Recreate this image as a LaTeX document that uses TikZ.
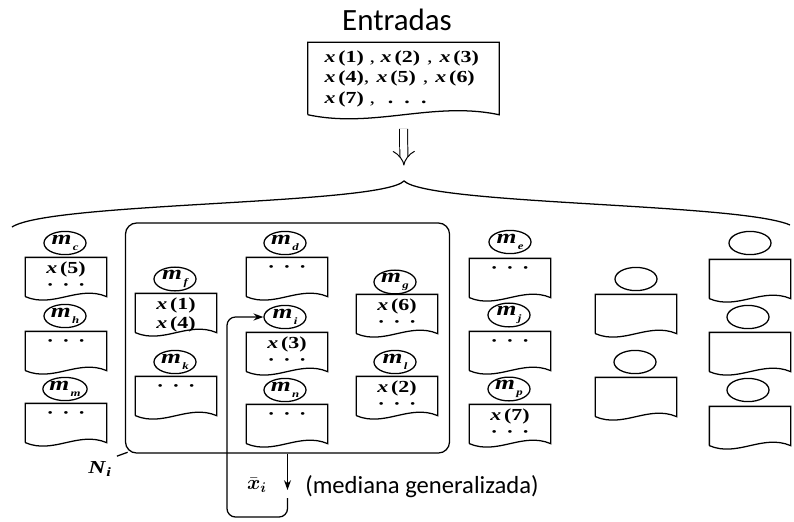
\documentclass[tikz,border=0pt]{standalone}
\usepackage{amsmath}
\usepackage{fontspec}
\setmainfont{Liberation Serif}
\newfontfamily\calfont{Carlito}
\newfontfamily\scanfont[FakeStretch=1.3]{Liberation Serif}
\usetikzlibrary{shapes.geometric,arrows.meta}

\begin{document}
\begin{tikzpicture}[x=0.025cm, y=-0.025cm, line width=0.9pt,
    mnode/.style={draw, ellipse, minimum width=1.05cm, minimum height=0.58cm, inner sep=0pt, font=\scanfont\fontsize{14}{16}\selectfont},
    docnode/.style={minimum width=2cm, minimum height=0.95cm, inner sep=0pt},
    doctext/.style={anchor=north, inner sep=0pt, align=center, font=\scanfont\fontsize{12}{11.5}\selectfont},
    >={Stealth[length=7pt,width=5pt]}]

    \def\mlab#1{\textbf{\textit{m}}\hspace{1pt}\raisebox{-0.6ex}{\scriptsize\bfseries\itshape #1}}
    \def\xv#1{\textbf{\textit{x}\,(#1)}}
    \def\tdots{\rule{0pt}{7pt}\textbf{·\hspace{6pt}·\hspace{6pt}·}}
    % document shape, wavy bottom
    \def\docbox#1#2#3{
        \node[docnode] (#1) at (#2) {};
        \draw (#1.south west) -- (#1.north west) -- (#1.north east) -- (#1.south east)
            .. controls +(-28,-12) and +(28,12) .. (#1.south west);
        \node[doctext] (#1t) at ([yshift=-3pt]#1.north) {#3};
    }

    \useasboundingbox (0,0) rectangle (794,521);

% inputs
    \node[font=\calfont\fontsize{22}{26}\selectfont] (title) at (397,20) {Entradas};
    \node[docnode, minimum width=4.75cm, minimum height=1.78cm] (indoc) at (403.5,78.5) {};
    \draw (indoc.south west) -- (indoc.north west) -- (indoc.north east) -- (indoc.south east)
        .. controls +(-66,-14) and +(66,14) .. (indoc.south west);
    \node[anchor=north west, inner sep=0pt, align=left, font=\scanfont\fontsize{12}{14.5}\selectfont] (intext) at (324,50)
        {\xv{1}\hspace{4pt},\hspace{4pt}\xv{2}\hspace{5pt},\hspace{5pt}\xv{3}\\
         \xv{4},\hspace{5pt}\xv{5}\hspace{5pt},\hspace{5pt}\xv{6}\\
         \xv{7}\hspace{4pt},\hspace{9pt}\textbf{.\hspace{8pt}.\hspace{8pt}.}};

    \coordinate (tip) at (404,181);
    \draw[double, double distance=5pt, line width=0.7pt, -{Implies[scale=1.2]}, shorten <=10pt, shorten >=11pt] (indoc.south) -- (tip);

% brace
    \draw (12,227) .. controls (50,202) and (380,205) .. (tip)
        .. controls (430,205) and (740,203) .. (790,225);

% neighbourhood N_i
    \node[draw, rounded corners=8pt, minimum width=8.1cm, minimum height=5.75cm, inner sep=0pt] (Ni) at (287.5,338) {};
    \node[font=\scanfont\fontsize{13}{15}\selectfont] (Nlab) at (100,469) {\textbf{\textit{N}}\textsubscript{\textbf{\textit{i}}}};
    \draw ([shift={(2pt,1pt)}]Ni.south west) -- (Nlab.north east);

% column 1
    \node[mnode] (mc) at (65,243) {\mlab{c}};
    \docbox{dc}{66,277}{\xv{5}\\\tdots}
    \node[mnode] (mh) at (65,316) {\mlab{h}};
    \docbox{dh}{66,351}{\tdots}
    \node[mnode] (mm) at (65,389) {\mlab{m}};
    \docbox{dm}{66,423}{\tdots}

% column 2
    \node[mnode] (mf) at (175,279) {\mlab{f}};
    \docbox{df}{176,313}{\xv{1}\\[2pt]\xv{4}}
    \node[mnode] (mk) at (175,362) {\mlab{k}};
    \docbox{dk}{176,396}{\tdots}

% column 3
    \node[mnode] (md) at (285,243) {\mlab{d}};
    \docbox{dd}{287,277}{\tdots}
    \node[mnode] (mi) at (285,317) {\mlab{i}};
    \docbox{di}{287,352}{\xv{3}\\\tdots}
    \node[mnode] (mn) at (285,390) {\mlab{n}};
    \docbox{dn}{287,424}{\tdots}

% column 4
    \node[mnode] (mg) at (395,282) {\mlab{g}};
    \docbox{dg}{397,314}{\xv{6}\\\tdots}
    \node[mnode] (ml) at (395,362) {\mlab{l}};
    \docbox{dl}{397,396}{\xv{2}\\\tdots}

% column 5
    \node[mnode] (me) at (510,242) {\mlab{e}};
    \docbox{de}{510,278}{\tdots}
    \node[mnode] (mj) at (509,315) {\mlab{j}};
    \docbox{dj}{510,351}{\tdots}
    \node[mnode] (mp) at (509,389) {\mlab{p}};
    \docbox{dp}{510,424}{\xv{7}\\\tdots}

% column 6
    \node[mnode] (ea) at (636,279) {};
    \docbox{da}{636,314}{}
    \node[mnode] (eb) at (635,362) {};
    \docbox{db}{636,397}{}

% column 7
    \node[mnode] (ec) at (750,243) {};
    \docbox{dx}{750,279}{}
    \node[mnode] (ed) at (748,317) {};
    \docbox{dy}{750,352}{}
    \node[mnode] (ee) at (748,390) {};
    \docbox{dz}{750,426}{}

% output and feedback
    \coordinate (xout) at (287.5,490);
    \coordinate (fb) at (287.5,498);
    \draw[->] (Ni.south) -- (xout);
    \node[font=\fontsize{14}{16}\selectfont] (xbar) at (257,485) {$\bar{\boldsymbol{x}}_{\boldsymbol{i}}$};
    \node[anchor=west, font=\calfont\fontsize{17.5}{20}\selectfont] (med) at (300,487) {(mediana generalizada)};
    \draw[->, rounded corners=6pt] (fb) -- (287.5,517) -- (227,517) -- (227,317) -- (mi.west);

\end{tikzpicture}
\end{document}
